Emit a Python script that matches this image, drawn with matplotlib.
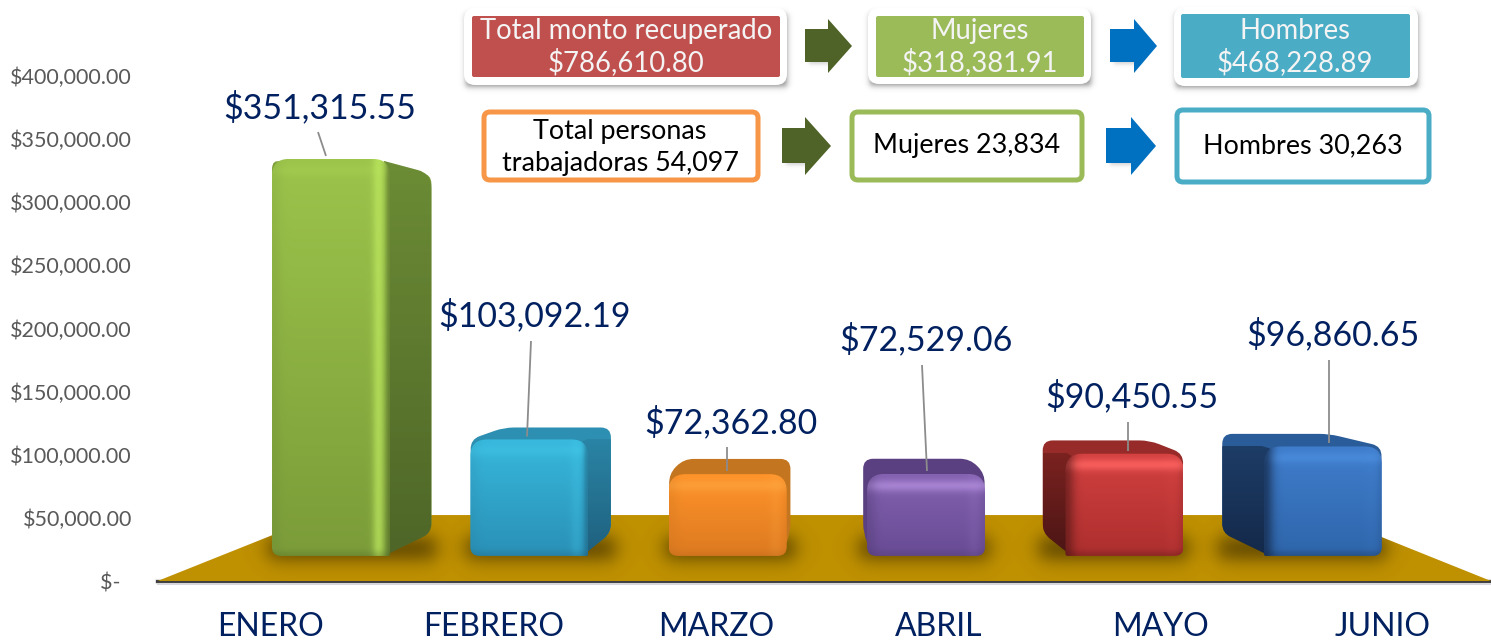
import numpy as np
import matplotlib
matplotlib.use("Agg")
import matplotlib.pyplot as plt
from matplotlib.patches import Polygon, FancyBboxPatch, PathPatch
from matplotlib.path import Path
from matplotlib.colors import to_rgb

months = ["ENERO", "FEBRERO", "MARZO", "ABRIL", "MAYO", "JUNIO"]
monto = [351315.55, 103092.19, 72362.80, 72529.06, 90450.55, 96860.65]
y_ticks = [0, 50000, 100000, 150000, 200000, 250000, 300000, 350000, 400000]
total_monto = 786610.80
monto_mujeres = 318381.91
monto_hombres = 468228.89
total_personas = 54097
personas_mujeres = 23834
personas_hombres = 30263

W, H = 1491, 642
FONT = "Lato"
plt.rcParams["font.family"] = [FONT, "DejaVu Sans"]

fig = plt.figure(figsize=(W / 100, H / 100), dpi=100, facecolor="white")
ax = fig.add_axes([157 / W, (H - 581) / H, (W - 157) / W, 505 / H])
ax.set_ylim(0, 400000)
ax.set_xlim((157 - 271) / 222.4, (W - 271) / 222.4)
ax.set_facecolor("none")
for s in ("top", "left", "right"):
    ax.spines[s].set_visible(False)
ax.spines["bottom"].set_color("#3f3f3f")
ax.spines["bottom"].set_linewidth(2.4)
ax.set_yticks(y_ticks)
ax.set_yticklabels([f"${v:,.2f}" if v else "$-  " for v in y_ticks],
                   fontsize=15.5, color="#595959")
ax.set_xticks(range(len(months)))
ax.set_xticklabels(months, fontsize=23, color="#002060")
ax.tick_params(axis="y", length=0, pad=18)
ax.tick_params(axis="x", length=0, pad=22)

ov = fig.add_axes([0, 0, 1, 1], facecolor="none")
ov.set_xlim(0, W)
ov.set_ylim(H, 0)
ov.axis("off")
ov.set_autoscale_on(False)

fig.canvas.draw()


def to_px(x, y):
    d = ax.transData.transform((x, y))
    return d[0], H - d[1]


# perspective of the 3-D chart floor
VPX, VPY = 826.0, 314.0
FRONT_X, FRONT_Y = 0.892, 0.906   # bar front plane relative to chart plane
BACK = 0.905                      # bar back plane relative to bar front plane
FLOOR_BACK = 0.753                # floor back edge relative to chart plane
HEIGHT = 0.895
BAR_W = 118.0


def back(px, py, k=BACK):
    return VPX + (px - VPX) * k, VPY + (py - VPY) * k


def rounded_path(pts, radii):
    pts = [np.array(p, float) for p in pts]
    n = len(pts)
    verts, codes = [], []
    for j in range(n):
        v, a, b = pts[j], pts[j - 1], pts[(j + 1) % n]
        r = radii[j]
        ua, ub = a - v, b - v
        la, lb = np.hypot(*ua), np.hypot(*ub)
        ra = min(r, la / 2) if la else 0
        rb = min(r, lb / 2) if lb else 0
        p0 = v + ua / la * ra if la else v
        p1 = v + ub / lb * rb if lb else v
        verts.append(p0)
        codes.append(Path.MOVETO if j == 0 else Path.LINETO)
        verts += [v, p1]
        codes += [Path.CURVE3, Path.CURVE3]
    verts.append(verts[0])
    codes.append(Path.CLOSEPOLY)
    return Path(np.array(verts), codes)


def soft_rect(x0, y0, x1, y1, sig, color, alpha, clip=None, zorder=2):
    pad = 3 * sig
    ex0, ex1, ey0, ey1 = x0 - pad, x1 + pad, y0 - pad, y1 + pad
    xs = np.arange(ex0, ex1)
    ys = np.arange(ey0, ey1)
    ax_ = 0.5 * (np.tanh((xs - x0) / sig) - np.tanh((xs - x1) / sig))
    ay_ = 0.5 * (np.tanh((ys - y0) / sig) - np.tanh((ys - y1) / sig))
    a = np.outer(ay_, ax_) * alpha
    img = np.zeros(a.shape + (4,))
    img[..., :3] = to_rgb(color)
    img[..., 3] = a
    im = ov.imshow(img, extent=(ex0, ex1, ey1, ey0), aspect="auto",
                   interpolation="bilinear", zorder=zorder)
    if clip is not None:
        im.set_clip_path(clip)
    return im


# floor
fl, fy = to_px(-0.51, 0)
fr, _ = to_px((W - 271) / 222.4, 0)
bl, by = back(fl, fy, FLOOR_BACK)
br, _ = back(fr, fy, FLOOR_BACK)
floor = Polygon([(fl, fy), (fr, fy), (br, by), (bl, by)], closed=True,
                fc="#BF9000", ec="none", zorder=1)
ov.add_patch(floor)
ov.plot([fl, W], [fy + 2.5, fy + 2.5], color="#d8d8dc", lw=1.5, zorder=1)

# front, bottom of front, top, side top, side bottom, highlight
bar_styles = [
    ("#9CC44B", "#7B9C39", "#7F9F3C", "#6C8C35", "#4E6628", "#BDE95F"),
    ("#37B8DC", "#2A90B6", "#2D8FB1", "#2A84A5", "#1F607E", "#45CCEE"),
    ("#FF932A", "#DD7A20", "#C4751F", "#B5691A", "#B5691A", "#FFB04A"),
    ("#8361B0", "#684B94", "#5A4080", "#5F4788", "#4E3A70", "#B28EDD"),
    ("#D24040", "#AD2F2E", "#962B29", "#7A2220", "#4A1514", "#FF6461"),
    ("#3F7DCC", "#2F66AB", "#2A5C99", "#1D3C66", "#14294A", "#4F93E4"),
]
top_band = [0.15, 0.35, 0.4, 0.75, 0.8, 0.55]
out_band = [0.7, 0.25, 0.15, 0.1, 0.05, 0.05]
dark_left = [0.1, 0.1, 0.15, 0.35, 0.6, 0.75]

for i, v in enumerate(monto):
    c = bar_styles[i]
    cx, _ = to_px(i, 0)
    cx = VPX + (cx - VPX) * FRONT_X
    _, y0 = to_px(i, 0)
    base = VPY + (y0 - VPY) * FRONT_Y
    _, yv = to_px(i, v)
    top = base - (y0 - yv) * HEIGHT
    L, R = cx - BAR_W / 2, cx + BAR_W / 2
    bL, bB = back(L, base)
    bR, bT = back(R, top)
    has_right = bR > R + 8
    has_left = bL < L - 8

    # soft shadow on the floor
    sx0, sx1 = min(L, bL) - 4, max(R, bR) + 4
    soft_rect(sx0, bB + 4, sx1, base + 2, 11, "#3c2c00", 0.8, clip=floor, zorder=2)

    # body silhouette with rounded corners
    pts = [(L + 4, base - 4)]
    if bL < L:
        pts.append((bL, bB))
    else:
        pts.append((L, top))
    pts.append((bL, bT))
    pts.append((bR, bT))
    if bR > R:
        pts.append((bR, bB))
    else:
        pts.append((R, top))
    pts.append((R - 4, base - 4))
    body = PathPatch(rounded_path(pts, [0] + [10] * (len(pts) - 2) + [0]),
                     fc=c[2], ec="none", zorder=3)
    ov.add_patch(body)

    # side faces, shaded from their top to their bottom
    grad = np.linspace(0, 1, 64)[:, None, None]
    side_img = np.array(to_rgb(c[3]))[None, None, :] * (1 - grad) + np.array(to_rgb(c[4]))[None, None, :] * grad
    if has_right:
        sp = [(R - 6, top + 2), (bR, bT), (bR, bB), (R - 6, base)]
        clip = PathPatch(rounded_path(sp, [0, 14, 9, 0]), fc="none", ec="none",
                         transform=ov.transData)
        ov.add_patch(clip)
        im = ov.imshow(side_img, extent=(R - 6, bR, base, top), aspect="auto", zorder=3.1)
        im.set_clip_path(clip)
    if has_left:
        sp = [(L + 6, top + 2), (bL, bT), (bL, bB), (L + 6, base)]
        clip = PathPatch(rounded_path(sp, [0, 14, 9, 0]), fc="none", ec="none",
                         transform=ov.transData)
        ov.add_patch(clip)
        im = ov.imshow(side_img, extent=(bL, L + 6, base, top), aspect="auto", zorder=3.1)
        im.set_clip_path(clip)

    # front face with bevel
    n_h, n_w = int(base - top), int(BAR_W)
    t = np.linspace(0, 1, n_h)[:, None, None]
    img = np.array(to_rgb(c[0]))[None, None, :] * (1 - t) + np.array(to_rgb(c[1]))[None, None, :] * t
    img = np.repeat(img, n_w, axis=1)
    hi = np.array(to_rgb(c[5]))
    dark = np.array(to_rgb(c[4]))
    yy = np.arange(n_h)
    xx = np.arange(n_w)
    band_y = top_band[i] * np.exp(-((yy - 11) / 6.0) ** 2)[:, None, None]
    img = img * (1 - band_y) + hi * band_y
    band_x = out_band[i] * np.exp(-((xx - (n_w - 12)) / 6.0) ** 2)[None, :, None]
    img = img * (1 - band_x) + hi * band_x
    edge_r = 0.55 * np.exp(-((n_w - 1 - xx) / 4.0) ** 2)[None, :, None] * (1 if i < 2 else 0.2)
    img = img * (1 - edge_r) + dark * edge_r
    edge = dark_left[i] * np.exp(-(xx / 9.0) ** 2)[None, :, None]
    img = img * (1 - edge) + dark * edge
    bottom = 0.28 * np.exp(-((n_h - 1 - yy) / 5.0) ** 2)[:, None, None]
    img = img * (1 - bottom) + dark * bottom
    im = ov.imshow(np.clip(img, 0, 1), extent=(L, R, base, top), aspect="auto",
                   interpolation="bilinear", zorder=4)
    clip = PathPatch(rounded_path([(L, top), (R, top), (R, base), (L, base)],
                                  [17, 17, 2 if has_right else 9, 2 if has_left else 9]),
                     fc="none", ec="none", transform=ov.transData)
    ov.add_patch(clip)
    im.set_clip_path(clip)

# data labels and leader lines
label_pos = [(320, 107), (535, 315), (731, 422), (926, 339), (1132, 396), (1333, 334)]
leader_start = [(318, 132), (531, 341), (727, 447), (922, 365), (1128, 422), (1329, 360)]
leader_tip_x = [326, 527, 727, 927, 1128, 1329]
for i, v in enumerate(monto):
    _, y0 = to_px(i, 0)
    _, yv = to_px(i, v)
    base = VPY + (y0 - VPY) * FRONT_Y
    top = base - (y0 - yv) * HEIGHT
    tip_y = top - 3
    sx, sy = leader_start[i]
    ov.plot([sx, leader_tip_x[i]], [sy, tip_y], color="#8c8c8c", lw=1.3, zorder=6,
            solid_capstyle="butt")
    lx, ly = label_pos[i]
    ov.text(lx, ly, f"${v:,.2f}", fontsize=24.4, color="#002060", ha="center", va="center", zorder=7)


def rbox(x0, y0, x1, y1, fc, ec="none", lw=0, r=8, z=8):
    p = FancyBboxPatch((x0, y0), x1 - x0, y1 - y0, boxstyle=f"round,pad=0,rounding_size={r}",
                       fc=fc, ec=ec, lw=lw, zorder=z)
    ov.add_patch(p)
    return p


def arrow(x0, x1, head_x, y0, y1, by0, by1, color):
    ym = (y0 + y1) / 2
    soft_rect(x0 + 3, by0 + 6, head_x + 6, by1 + 2, 2.5, "#000000", 0.18, zorder=7.5)
    ov.add_patch(Polygon([(x0, by0), (head_x, by0), (head_x, y0), (x1, ym), (head_x, y1),
                          (head_x, by1), (x0, by1)], closed=True, fc=color, ec="none", zorder=8))


def card(x0, y0, x1, y1, ix0, iy0, ix1, iy1, color):
    soft_rect(x0 + 1, y0 + 6, x1 - 1, y1 + 1.5, 3.5, "#000000", 0.45, zorder=7.5)
    rbox(x0, y0, x1, y1, "white", r=11)
    rbox(ix0, iy0, ix1, iy1, color, r=2, z=8.2)


TXT = dict(ha="center", va="center", zorder=9, fontsize=19.8)
card(464, 8, 787, 85, 472, 16, 780, 77, "#C0504D")
ov.text(626, 31, "Total monto recuperado", color="#F4F4F4", **TXT)
ov.text(626, 62, f"${total_monto:,.2f}", color="#F4F4F4", **TXT)
card(868, 8, 1091, 84, 876, 16, 1084, 77, "#9BBB59")
ov.text(980, 31, "Mujeres", color="#F4F4F4", **TXT)
ov.text(980, 62, f"${monto_mujeres:,.2f}", color="#F4F4F4", **TXT)
card(1174, 7, 1418, 86, 1181, 14, 1410, 78, "#4BACC6")
ov.text(1295, 31, "Hombres", color="#F4F4F4", **TXT)
ov.text(1295, 62, f"${monto_hombres:,.2f}", color="#F4F4F4", **TXT)
arrow(805, 852, 828, 19, 73, 29, 62, "#4F6228")
arrow(1110, 1157, 1134, 19, 73, 29, 62, "#0070C0")

rbox(484, 112, 758, 180, "white", "#F79646", 3.6, r=6)
rbox(852, 112, 1082, 180, "white", "#9BBB59", 3.6, r=6)
rbox(1177, 110, 1429, 182, "white", "#4BACC6", 3.6, r=6)
TXT2 = dict(TXT, color="black", fontsize=19.4)
ov.text(620, 131, "Total personas", **TXT2)
ov.text(620, 164, f"trabajadoras {total_personas:,d}", **TXT2)
ov.text(967, 146, f"Mujeres {personas_mujeres:,d}", **TXT2)
ov.text(1303, 146, f"Hombres {personas_hombres:,d}", **TXT2)
arrow(782, 831, 805, 117, 175, 128, 163, "#4F6228")
arrow(1106, 1156, 1131, 117, 175, 128, 163, "#0070C0")

fig.savefig("out.png", dpi=100, facecolor="white")
